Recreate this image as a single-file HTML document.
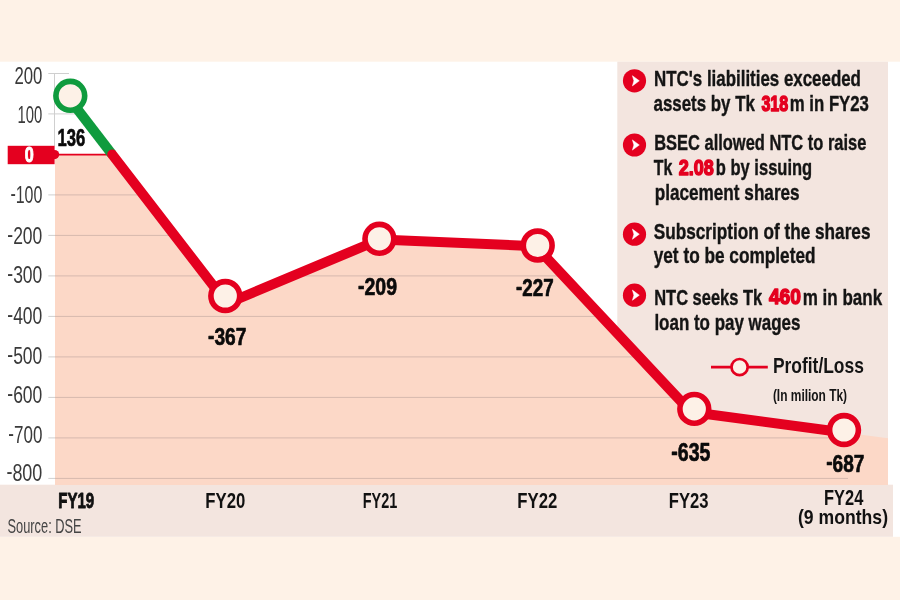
<!DOCTYPE html>
<html lang="en"><head><meta charset="utf-8"><title>NTC Profit/Loss</title>
<style>html,body{margin:0;padding:0;background:#fef2e7;}body{width:900px;height:600px;overflow:hidden;font-family:"Liberation Sans",sans-serif;}svg{display:block;will-change:transform;transform:translateZ(0)}</style>
</head><body>
<svg width="900" height="600" viewBox="0 0 900 600" font-family="'Liberation Sans', sans-serif">
<rect width="900" height="600" fill="#fef2e7"/>
<rect x="0" y="61.7" width="900" height="475.1" fill="#ffffff"/>
<rect x="0" y="484.7" width="893" height="52.1" fill="#f3e5df"/>
<rect x="617.3" y="61.7" width="270.7" height="423.5" fill="#f3e5df"/>
<defs><clipPath id="ar"><polygon points="55.0,154.5 112.2,154.5 227.0,303.5 379.8,239.5 535.7,246.2 691.0,412.0 846.0,432.8 888.0,438.3 888.0,484.9 55.0,484.9"/></clipPath></defs>
<polygon points="55.0,154.5 112.2,154.5 227.0,303.5 379.8,239.5 535.7,246.2 691.0,412.0 846.0,432.8 888.0,438.3 888.0,484.9 55.0,484.9" fill="#fcd8c7"/>
<g stroke="#d6b9ae" stroke-width="1" clip-path="url(#ar)">
<line x1="55" x2="848" y1="194.9" y2="194.9"/>
<line x1="55" x2="848" y1="235.4" y2="235.4"/>
<line x1="55" x2="848" y1="275.9" y2="275.9"/>
<line x1="55" x2="848" y1="316.4" y2="316.4"/>
<line x1="55" x2="848" y1="356.9" y2="356.9"/>
<line x1="55" x2="848" y1="397.4" y2="397.4"/>
<line x1="55" x2="848" y1="437.9" y2="437.9"/>
<line x1="55" x2="848" y1="478.4" y2="478.4"/>
</g>
<g stroke="#cfcfcf" stroke-width="1">
<line x1="48.3" x2="69" y1="73.5" y2="73.5"/>
<line x1="48.3" x2="76" y1="113.9" y2="113.9"/>
<line x1="48.3" x2="55" y1="194.9" y2="194.9"/>
<line x1="48.3" x2="55" y1="235.4" y2="235.4"/>
<line x1="48.3" x2="55" y1="275.9" y2="275.9"/>
<line x1="48.3" x2="55" y1="316.4" y2="316.4"/>
<line x1="48.3" x2="55" y1="356.9" y2="356.9"/>
<line x1="48.3" x2="55" y1="397.4" y2="397.4"/>
<line x1="48.3" x2="55" y1="437.9" y2="437.9"/>
<line x1="48.3" x2="55" y1="478.4" y2="478.4"/>
<line x1="54.5" x2="54.5" y1="73.5" y2="146"/>
</g>
<rect x="7.7" y="145.8" width="46.9" height="18.4" fill="#e4001f"/>
<circle cx="54.6" cy="154.6" r="4.6" fill="#e4001f"/>
<line x1="56" x2="112.2" y1="154.7" y2="154.7" stroke="#e4001f" stroke-width="1.7"/>
<line x1="69.8" y1="99.4" x2="112.2" y2="154.5" stroke="#0f9b3e" stroke-width="10"/>
<polyline fill="none" stroke="#e4001f" stroke-width="10" stroke-linecap="round" stroke-linejoin="round" points="112.2,154.5 227.0,303.5 379.8,239.5 535.7,246.2 691.0,412.0 846.0,432.8"/>
<circle cx="70.3" cy="95.8" r="14.4" fill="#fdf1e7" stroke="#0f9b3e" stroke-width="5.6"/>
<circle cx="225.3" cy="296" r="14.4" fill="#fdf1e7" stroke="#e4001f" stroke-width="5.6"/>
<circle cx="379.4" cy="238.8" r="14.4" fill="#fdf1e7" stroke="#e4001f" stroke-width="5.6"/>
<circle cx="537.7" cy="245.5" r="14.4" fill="#fdf1e7" stroke="#e4001f" stroke-width="5.6"/>
<circle cx="694.3" cy="408.9" r="14.4" fill="#fdf1e7" stroke="#e4001f" stroke-width="5.6"/>
<circle cx="844" cy="430" r="14.4" fill="#fdf1e7" stroke="#e4001f" stroke-width="5.6"/>
<text transform="translate(14.40,84.46) scale(0.7002,1)" font-size="23.94" fill="#3a3a3a"><tspan font-weight="400">200</tspan></text>
<text transform="translate(17.40,122.76) scale(0.6202,1)" font-size="23.94" fill="#3a3a3a"><tspan font-weight="400">100</tspan></text>
<text transform="translate(10.40,203.06) scale(0.6672,1)" font-size="23.94" fill="#3a3a3a"><tspan font-weight="400" dy="-2.0">-</tspan><tspan font-weight="400" dy="2.0">100</tspan></text>
<text transform="translate(7.30,243.66) scale(0.7319,1)" font-size="23.94" fill="#3a3a3a"><tspan font-weight="400" dy="-2.0">-</tspan><tspan font-weight="400" dy="2.0">200</tspan></text>
<text transform="translate(7.30,283.36) scale(0.7319,1)" font-size="23.94" fill="#3a3a3a"><tspan font-weight="400" dy="-2.0">-</tspan><tspan font-weight="400" dy="2.0">300</tspan></text>
<text transform="translate(7.30,324.06) scale(0.7319,1)" font-size="23.94" fill="#3a3a3a"><tspan font-weight="400" dy="-2.0">-</tspan><tspan font-weight="400" dy="2.0">400</tspan></text>
<text transform="translate(7.30,364.06) scale(0.7319,1)" font-size="23.94" fill="#3a3a3a"><tspan font-weight="400" dy="-2.0">-</tspan><tspan font-weight="400" dy="2.0">500</tspan></text>
<text transform="translate(7.30,402.76) scale(0.7319,1)" font-size="23.94" fill="#3a3a3a"><tspan font-weight="400" dy="-2.0">-</tspan><tspan font-weight="400" dy="2.0">600</tspan></text>
<text transform="translate(8.30,442.76) scale(0.7110,1)" font-size="23.94" fill="#3a3a3a"><tspan font-weight="400" dy="-2.0">-</tspan><tspan font-weight="400" dy="2.0">700</tspan></text>
<text transform="translate(6.40,481.06) scale(0.7506,1)" font-size="23.94" fill="#3a3a3a"><tspan font-weight="400" dy="-2.0">-</tspan><tspan font-weight="400" dy="2.0">800</tspan></text>
<text transform="translate(24.70,162.18) scale(0.7333,1)" font-size="22.11" fill="#fff" stroke="#fff" stroke-width="1.0" stroke-linejoin="round" paint-order="stroke"><tspan font-weight="700">0</tspan></text>
<text transform="translate(57.50,145.76) scale(0.6807,1)" font-size="24.37" fill="#0a0a0a" stroke="#0a0a0a" stroke-width="0.7" stroke-linejoin="round" paint-order="stroke"><tspan font-weight="700">136</tspan></text>
<text transform="translate(208.00,345.35) scale(0.7734,1)" font-size="24.79" fill="#0a0a0a" stroke="#0a0a0a" stroke-width="0.7" stroke-linejoin="round" paint-order="stroke"><tspan font-weight="700" dy="-1.3">-</tspan><tspan font-weight="700" dy="1.3">367</tspan></text>
<text transform="translate(358.00,295.35) scale(0.7855,1)" font-size="24.79" fill="#0a0a0a" stroke="#0a0a0a" stroke-width="0.7" stroke-linejoin="round" paint-order="stroke"><tspan font-weight="700" dy="-1.3">-</tspan><tspan font-weight="700" dy="1.3">209</tspan></text>
<text transform="translate(516.00,296.06) scale(0.7704,1)" font-size="24.37" fill="#0a0a0a" stroke="#0a0a0a" stroke-width="0.7" stroke-linejoin="round" paint-order="stroke"><tspan font-weight="700" dy="-1.3">-</tspan><tspan font-weight="700" dy="1.3">227</tspan></text>
<text transform="translate(671.30,461.05) scale(0.7830,1)" font-size="24.93" fill="#0a0a0a" stroke="#0a0a0a" stroke-width="0.7" stroke-linejoin="round" paint-order="stroke"><tspan font-weight="700" dy="-1.3">-</tspan><tspan font-weight="700" dy="1.3">635</tspan></text>
<text transform="translate(826.20,471.66) scale(0.7872,1)" font-size="24.23" fill="#0a0a0a" stroke="#0a0a0a" stroke-width="0.7" stroke-linejoin="round" paint-order="stroke"><tspan font-weight="700" dy="-1.3">-</tspan><tspan font-weight="700" dy="1.3">687</tspan></text>
<text transform="translate(58.30,507.60) scale(0.6819,1)" font-size="22.03" fill="#111" stroke="#111" stroke-width="0.9" stroke-linejoin="round" paint-order="stroke"><tspan font-weight="700">FY19</tspan></text>
<text transform="translate(205.30,508.00) scale(0.7597,1)" font-size="22.03" fill="#111" stroke="#111" stroke-width="0" stroke-linejoin="round" paint-order="stroke"><tspan font-weight="700">FY20</tspan></text>
<text transform="translate(362.70,508.00) scale(0.6572,1)" font-size="22.03" fill="#111" stroke="#111" stroke-width="0" stroke-linejoin="round" paint-order="stroke"><tspan font-weight="700">FY21</tspan></text>
<text transform="translate(517.30,508.00) scale(0.7597,1)" font-size="22.03" fill="#111" stroke="#111" stroke-width="0" stroke-linejoin="round" paint-order="stroke"><tspan font-weight="700">FY22</tspan></text>
<text transform="translate(668.80,508.00) scale(0.7540,1)" font-size="22.03" fill="#111" stroke="#111" stroke-width="0" stroke-linejoin="round" paint-order="stroke"><tspan font-weight="700">FY23</tspan></text>
<text transform="translate(824.00,504.70) scale(0.7464,1)" font-size="22.03" fill="#111" stroke="#111" stroke-width="0" stroke-linejoin="round" paint-order="stroke"><tspan font-weight="700">FY24</tspan></text>
<text transform="translate(798.00,523.70) scale(0.8871,1)" font-size="19.86" fill="#111"><tspan font-weight="700">(9 months)</tspan></text>
<text transform="translate(7.50,533.30) scale(0.6513,1)" font-size="19.71" fill="#444"><tspan font-weight="400">Source: DSE</tspan></text>
<text transform="translate(654.10,85.60) scale(0.7430,1)" font-size="22.75" fill="#141414" stroke="#141414" stroke-width="0.4" stroke-linejoin="round" paint-order="stroke"><tspan font-weight="700">NTC's liabilities exceeded</tspan></text>
<text transform="translate(653.50,111.00) scale(0.7429,1)" font-size="22.75" fill="#141414" stroke="#141414" stroke-width="0.4" stroke-linejoin="round" paint-order="stroke"><tspan font-weight="700">assets by Tk</tspan></text>
<text transform="translate(789.80,111.00) scale(0.7367,1)" font-size="22.75" fill="#141414" stroke="#141414" stroke-width="0.4" stroke-linejoin="round" paint-order="stroke"><tspan font-weight="700">m in FY23</tspan></text>
<text transform="translate(654.20,149.70) scale(0.7238,1)" font-size="22.75" fill="#141414" stroke="#141414" stroke-width="0.4" stroke-linejoin="round" paint-order="stroke"><tspan font-weight="700">BSEC allowed NTC to raise</tspan></text>
<text transform="translate(653.70,175.00) scale(0.6987,1)" font-size="22.75" fill="#141414" stroke="#141414" stroke-width="0.4" stroke-linejoin="round" paint-order="stroke"><tspan font-weight="700">Tk</tspan></text>
<text transform="translate(715.80,175.00) scale(0.7268,1)" font-size="22.75" fill="#141414" stroke="#141414" stroke-width="0.4" stroke-linejoin="round" paint-order="stroke"><tspan font-weight="700">b by issuing</tspan></text>
<text transform="translate(654.70,199.60) scale(0.7547,1)" font-size="22.75" fill="#141414" stroke="#141414" stroke-width="0.4" stroke-linejoin="round" paint-order="stroke"><tspan font-weight="700">placement shares</tspan></text>
<text transform="translate(653.70,238.50) scale(0.7557,1)" font-size="22.75" fill="#141414" stroke="#141414" stroke-width="0.4" stroke-linejoin="round" paint-order="stroke"><tspan font-weight="700">Subscription of the shares</tspan></text>
<text transform="translate(653.70,263.00) scale(0.7578,1)" font-size="22.75" fill="#141414" stroke="#141414" stroke-width="0.4" stroke-linejoin="round" paint-order="stroke"><tspan font-weight="700">yet to be completed</tspan></text>
<text transform="translate(654.20,304.80) scale(0.7237,1)" font-size="22.75" fill="#141414" stroke="#141414" stroke-width="0.4" stroke-linejoin="round" paint-order="stroke"><tspan font-weight="700">NTC seeks Tk</tspan></text>
<text transform="translate(802.70,304.80) scale(0.7491,1)" font-size="22.75" fill="#141414" stroke="#141414" stroke-width="0.4" stroke-linejoin="round" paint-order="stroke"><tspan font-weight="700">m in bank</tspan></text>
<text transform="translate(654.40,330.20) scale(0.7458,1)" font-size="22.75" fill="#141414" stroke="#141414" stroke-width="0.4" stroke-linejoin="round" paint-order="stroke"><tspan font-weight="700">loan to pay wages</tspan></text>
<text transform="translate(761.40,110.50) scale(0.7257,1)" font-size="22.11" fill="#e4001f" stroke="#e4001f" stroke-width="1.5" stroke-linejoin="round" paint-order="stroke"><tspan font-weight="700">318</tspan></text>
<text transform="translate(678.70,174.50) scale(0.8161,1)" font-size="22.11" fill="#e4001f" stroke="#e4001f" stroke-width="1.5" stroke-linejoin="round" paint-order="stroke"><tspan font-weight="700">2.08</tspan></text>
<text transform="translate(768.90,304.30) scale(0.8693,1)" font-size="22.11" fill="#e4001f" stroke="#e4001f" stroke-width="1.5" stroke-linejoin="round" paint-order="stroke"><tspan font-weight="700">460</tspan></text>
<circle cx="634.5" cy="80.8" r="11.6" fill="#e4001f"/>
<path d="M632.4,75.7 L639.3,80.8 L632.4,85.9 L633.9,80.8 Z" fill="#fff" stroke="#fff" stroke-width="0.5" stroke-linejoin="round"/>
<circle cx="634.5" cy="145" r="11.6" fill="#e4001f"/>
<path d="M632.4,139.9 L639.3,145 L632.4,150.1 L633.9,145 Z" fill="#fff" stroke="#fff" stroke-width="0.5" stroke-linejoin="round"/>
<circle cx="634.5" cy="234.2" r="11.6" fill="#e4001f"/>
<path d="M632.4,229.1 L639.3,234.2 L632.4,239.3 L633.9,234.2 Z" fill="#fff" stroke="#fff" stroke-width="0.5" stroke-linejoin="round"/>
<circle cx="634.5" cy="295.2" r="11.6" fill="#e4001f"/>
<path d="M632.4,290.1 L639.3,295.2 L632.4,300.3 L633.9,295.2 Z" fill="#fff" stroke="#fff" stroke-width="0.5" stroke-linejoin="round"/>
<line x1="711" x2="767.8" y1="367.1" y2="367.1" stroke="#e4001f" stroke-width="2.6"/>
<circle cx="739.6" cy="367.1" r="8.1" fill="#fdf1e7" stroke="#e4001f" stroke-width="2.7"/>
<text transform="translate(772.90,373.30) scale(0.7967,1)" font-size="21.88" fill="#141414"><tspan font-weight="700">Profit/Loss</tspan></text>
<text transform="translate(772.90,401.10) scale(0.7415,1)" font-size="16.09" fill="#141414"><tspan font-weight="700">(In milion Tk)</tspan></text>
</svg>
</body></html>
